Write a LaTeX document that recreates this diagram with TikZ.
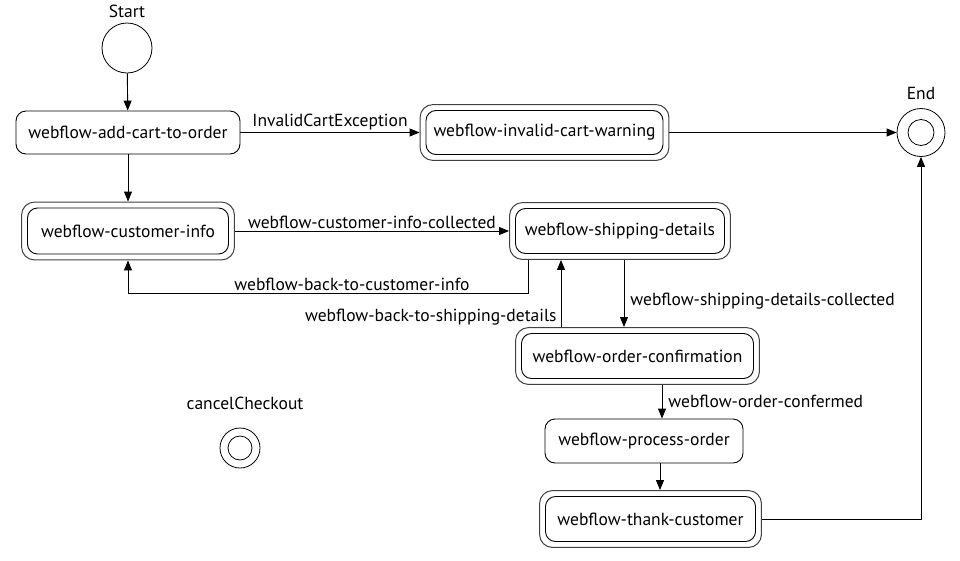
\documentclass[tikz,border=0pt]{standalone}
\usepackage{fontspec}
\setmainfont{PT Sans}
\usetikzlibrary{arrows.meta,fit}
\begin{document}
\begin{tikzpicture}[x=1pt,y=-1pt,
  every node/.style={font=\fontsize{17.5}{20}\selectfont},
  state/.style={draw, rounded corners=10pt, line width=0.9pt, minimum height=44pt, inner sep=0pt},
  outerbox/.style={draw=black!75, rounded corners=13pt, line width=1pt, inner sep=5.5pt},
  circ/.style={circle, draw, inner sep=0pt, line width=0.8pt},
  arr/.style={-{Triangle[length=10pt,width=8pt]}, line width=0.9pt},
  lbl/.style={inner sep=2pt},
  sidelbl/.style={inner sep=6pt}
]
\useasboundingbox (0,0) rectangle (960,560);

% initial / final
\node[circ, minimum size=50pt] (start) at (127,48) {};
\node (startlbl) at (127,11) {Start};
\node[circ, minimum size=48pt] (end) at (921,132.5) {};
\node[circ, minimum size=26pt] (endI) at (921,132.5) {};
\node (endlbl) at (921,93) {End};
\node[circ, minimum size=40pt] (cancel) at (240,448) {};
\node[circ, minimum size=24pt] (cancelI) at (240,448) {};
\node (cancellbl) at (245,403) {cancelCheckout};

% states
\node[state, minimum width=224pt, minimum height=43pt] (add) at (128,132.5) {webflow-add-cart-to-order};
\node[state, minimum width=237pt] (invI) at (544.5,132.5) {webflow-invalid-cart-warning};
\node[outerbox, fit=(invI)] (inv) {};
\node[state, minimum width=201pt, minimum height=46pt] (custI) at (128,231) {webflow-customer-info};
\node[outerbox, fit=(custI)] (cust) {};
\node[state, minimum width=209pt, minimum height=45pt] (shipI) at (620,231) {webflow-shipping-details};
\node[outerbox, fit=(shipI)] (ship) {};
\node[state, minimum width=232pt, minimum height=45pt] (ordcI) at (637.5,356) {webflow-order-confirmation};
\node[outerbox, fit=(ordcI)] (ordc) {};
\node[state, minimum width=198pt, minimum height=44pt] (proc) at (644,441) {webflow-process-order};
\node[state, minimum width=210pt, minimum height=45pt] (thankI) at (650.5,519) {webflow-thank-customer};
\node[outerbox, fit=(thankI)] (thank) {};

% transitions
\draw[arr] (start) -- (add);
\draw[arr] (add.east) -- node[above, lbl] {InvalidCartException} (inv.west);
\draw[arr] (inv.east) -- (end.west);
\draw[arr] (add) -- (cust);
\draw[arr] (cust.east) -- node[above, lbl] {webflow-customer-info-collected} (ship.west);
\draw[arr] ([xshift=-92]ship.south) -- ++(0,33) -| node[pos=0.22, above, lbl] {webflow-back-to-customer-info} (cust.south);
\draw[arr] ([xshift=4]ship.south) -- node[right, sidelbl, pos=0.62] {webflow-shipping-details-collected} ([xshift=4]ship.south |- ordc.north);
\draw[arr] ([xshift=-76.5]ordc.north) -- node[left, inner sep=4pt, pos=0.15] {webflow-back-to-shipping-details} ([xshift=-76.5]ordc.north |- ship.south);
\draw[arr] ([xshift=24.5]ordc.south) -- node[right, sidelbl] {webflow-order-confermed} ([xshift=24.5]ordc.south |- proc.north);
\draw[arr] ([xshift=16]proc.south) -- ([xshift=16]proc.south |- thank.north);
\draw[arr] (thank.east) -- (thank.east -| end.south) -- (end.south);
\end{tikzpicture}
\end{document}
